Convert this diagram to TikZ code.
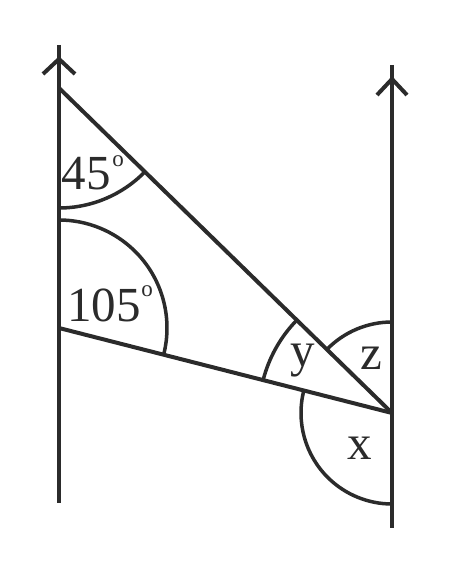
\documentclass[tikz,border=0pt]{standalone}
\usepackage{fontspec}
\setmainfont{Liberation Serif}
\usetikzlibrary{angles}
\definecolor{ink}{HTML}{2B2B2B}
\tikzset{
  every picture/.style={x=1pt,y=1pt},
  ln/.style={draw=ink,line width=4pt},
  arrowv/.style={draw=ink,line width=4pt,line join=miter},
  arcln/.style={draw=ink,line width=3.5pt},
  lbl/.style={inner sep=0pt,anchor=base,text=ink,font=\fontsize{49}{49}\selectfont},
  deg/.style={inner sep=0pt,anchor=center,text=ink,font=\fontsize{23}{23}\selectfont}
}
\begin{document}
\begin{tikzpicture}
\useasboundingbox (0,0) rectangle (450,579);
% coordinates
\coordinate (Ltop) at (59,534);
\coordinate (Lbot) at (59,76);
\coordinate (Lapex) at (59,520);
\coordinate (Lw1) at (43,505);
\coordinate (Lw2) at (75,505);
\coordinate (Rtop) at (392,514);
\coordinate (Rbot) at (392,51);
\coordinate (Rapex) at (392,500);
\coordinate (Rw1) at (377,484);
\coordinate (Rw2) at (407,484);
\coordinate (A) at (59,491);
\coordinate (B) at (59,251);
\coordinate (P) at (392,166);
% parallel lines with arrows
\draw[ln] (Ltop) -- (Lbot);
\draw[arrowv] (Lw1) -- (Lapex) -- (Lw2);
\draw[ln] (Rtop) -- (Rbot);
\draw[arrowv] (Rw1) -- (Rapex) -- (Rw2);
% transversals
\draw[ln] (A) -- (P);
\draw[ln] (B) -- (P);
% angle arcs
\pic[arcln, angle radius=120pt] {angle = B--A--P};
\pic[arcln, angle radius=108pt] {angle = P--B--A};
\pic[arcln, angle radius=133pt] {angle = A--P--B};
\pic[arcln, angle radius=91pt] {angle = Rtop--P--A};
\pic[arcln, angle radius=91pt] {angle = B--P--Rbot};
% labels
\node[lbl] (l45) at (86,389) {45};
\node[deg] (d45) at (118,418) {o};
\node[lbl] (l105) at (104,257) {105};
\node[deg] (d105) at (147,288) {o};
\node[lbl] (ly) at (303,212) {y};
\node[lbl] (lz) at (371.5,209) {z};
\node[lbl] (lx) at (359.5,119) {x};
\end{tikzpicture}
\end{document}
